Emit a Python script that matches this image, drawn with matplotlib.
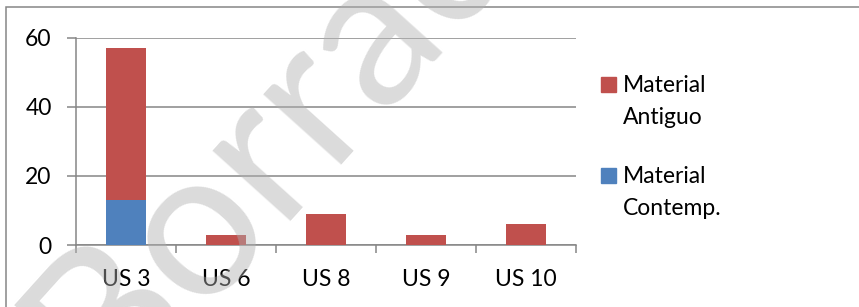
import matplotlib.pyplot as plt
import matplotlib as mpl
from matplotlib.patches import Rectangle
import numpy as np

mpl.rcParams['font.family'] = ['Lato', 'DejaVu Sans']

categories = ['US 3', 'US 6', 'US 8', 'US 9', 'US 10']
contemp = [13, 0, 0, 0, 0]
antiguo = [44, 3, 9, 3, 6]
series_names = ['Material\nAntiguo', 'Material\nContemp.']
color_tables = ['#C0504D', '#4F81BD']
yticks = [0, 20, 40, 60]
grey = '#868686'
fs = 16.5

W, H = 859, 307
fig = plt.figure(figsize=(W / 100, H / 100), dpi=100)
ax = fig.add_axes([76 / W, 1 - 245 / H, 500 / W, (245 - 37.7) / H])

x = np.arange(len(categories))
ax.bar(x, contemp, width=0.4, color=color_tables[1], zorder=3)
ax.bar(x, antiguo, width=0.4, bottom=contemp, color=color_tables[0], zorder=3)

ax.set_xlim(-0.5, len(categories) - 0.5)
ax.set_ylim(0, 60)
ax.set_yticks(yticks)
ax.yaxis.grid(True, color=grey, lw=1.1, zorder=0)
ax.set_axisbelow(True)
for s in ['top', 'right']:
    ax.spines[s].set_visible(False)
for s in ['left', 'bottom']:
    ax.spines[s].set_color(grey)
    ax.spines[s].set_linewidth(1.1)
ax.tick_params(axis='y', length=6.5, width=1.1, color=grey, pad=11, labelsize=fs)

# category boundaries as major ticks, labels on minor ticks
ax.set_xticks(np.arange(-0.5, len(categories), 1.0))
ax.set_xticklabels([])
ax.set_xticks(x, minor=True)
ax.set_xticklabels(categories, minor=True)
ax.tick_params(axis='x', which='major', length=6, width=1.1, color=grey)
ax.tick_params(axis='x', which='minor', length=0, pad=17, labelsize=fs)

# legend drawn by hand (square aligned to first line)
leg_tops = [77, 168]
for i, (name, col) in enumerate(zip(series_names, [color_tables[0], color_tables[1]])):
    top = leg_tops[i]
    fig.add_artist(Rectangle((601 / W, 1 - (top + 15) / H), 15 / W, 15 / H,
                             transform=fig.transFigure, color=col))
    for j, line in enumerate(name.split('\n')):
        fig.text(623 / W, 1 - (top + 15 + 32 * j) / H, line, fontsize=fs,
                 va='baseline', ha='left')

# outer frame
fig.add_artist(Rectangle((6 / W, -0.1), 1.2, 1 - 7 / H + 0.1, transform=fig.transFigure,
                         fill=False, edgecolor=grey, lw=1.1))

# watermark
fig.text(380 / W, 1 - 100 / H, 'Borrador', fontsize=150, rotation=48,
         rotation_mode='anchor', ha='center', va='baseline',
         color='#b0b0b0', alpha=0.45, zorder=10)

plt.savefig('out.png', dpi=100)
